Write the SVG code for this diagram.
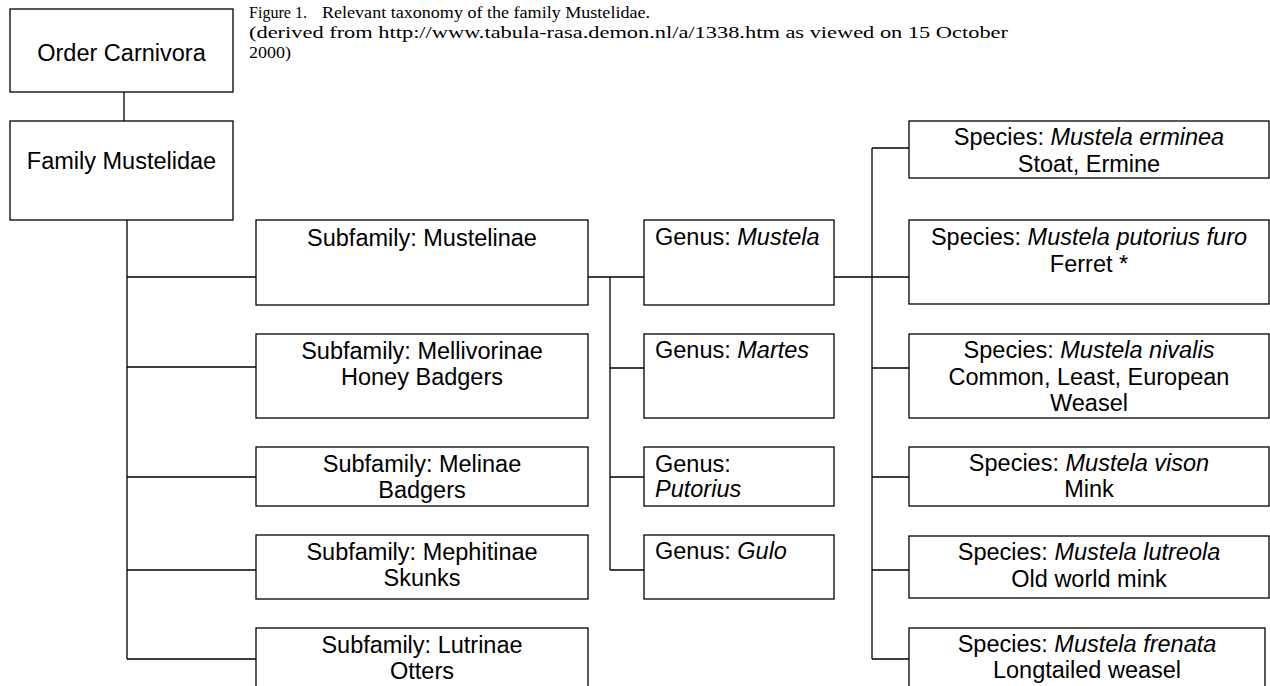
<svg xmlns="http://www.w3.org/2000/svg" width="1270" height="686" viewBox="0 0 1270 686">
<style>
rect{fill:#fff;stroke:#000;stroke-width:1.3}
.c line{stroke:#000;stroke-width:1.3}
text{font-family:"Liberation Sans",Arial,sans-serif;font-size:23.5px;fill:#000}
.m{text-anchor:middle}
.i{font-style:italic}
.cap{font-family:"Liberation Serif","Times New Roman",serif;font-size:17.5px}
</style>
<rect x="0" y="0" width="1270" height="686" style="stroke:none"/>
<g id="caption">
<text class="cap" x="249" y="18" textLength="58" lengthAdjust="spacingAndGlyphs">Figure 1.</text>
<text class="cap" x="322" y="18" textLength="328" lengthAdjust="spacingAndGlyphs">Relevant taxonomy of the family Mustelidae.</text>
<text class="cap" x="249" y="38" textLength="759" lengthAdjust="spacingAndGlyphs">(derived from http://www.tabula-rasa.demon.nl/a/1338.htm as viewed on 15 October</text>
<text class="cap" x="249" y="58" textLength="42" lengthAdjust="spacingAndGlyphs">2000)</text>
</g>
<g class="c" id="connectors">
<line x1="124" y1="92" x2="124" y2="121"/>
<line x1="127" y1="220" x2="127" y2="659"/>
<line x1="127" y1="277" x2="256" y2="277"/>
<line x1="127" y1="367" x2="256" y2="367"/>
<line x1="127" y1="477" x2="256" y2="477"/>
<line x1="127" y1="570" x2="256" y2="570"/>
<line x1="127" y1="659" x2="256" y2="659"/>
<line x1="588" y1="277" x2="644" y2="277"/>
<line x1="610" y1="277" x2="610" y2="570"/>
<line x1="610" y1="368" x2="644" y2="368"/>
<line x1="610" y1="477" x2="644" y2="477"/>
<line x1="610" y1="570" x2="644" y2="570"/>
<line x1="834" y1="277" x2="909" y2="277"/>
<line x1="872" y1="148" x2="872" y2="659"/>
<line x1="872" y1="148" x2="909" y2="148"/>
<line x1="872" y1="368" x2="909" y2="368"/>
<line x1="872" y1="477" x2="909" y2="477"/>
<line x1="872" y1="570" x2="909" y2="570"/>
<line x1="872" y1="659" x2="909" y2="659"/>
</g>
<g id="order"><rect x="10" y="9" width="223" height="83"/><text class="m" x="121.5" y="61">Order Carnivora</text></g>
<g id="family"><rect x="10" y="121" width="223" height="99"/><text class="m" x="121.5" y="169">Family Mustelidae</text></g>
<g id="sub-mustelinae"><rect x="256" y="220" width="332" height="85"/><text class="m" x="422" y="246">Subfamily: Mustelinae</text></g>
<g id="sub-mellivorinae"><rect x="256" y="334" width="332" height="84"/><text class="m" x="422" y="359">Subfamily: Mellivorinae</text><text class="m" x="422" y="385">Honey Badgers</text></g>
<g id="sub-melinae"><rect x="256" y="447" width="332" height="59"/><text class="m" x="422" y="472">Subfamily: Melinae</text><text class="m" x="422" y="498">Badgers</text></g>
<g id="sub-mephitinae"><rect x="256" y="535" width="332" height="64"/><text class="m" x="422" y="560">Subfamily: Mephitinae</text><text class="m" x="422" y="586">Skunks</text></g>
<g id="sub-lutrinae"><rect x="256" y="628" width="332" height="70"/><text class="m" x="422" y="653">Subfamily: Lutrinae</text><text class="m" x="422" y="679">Otters</text></g>
<g id="genus-mustela"><rect x="644" y="220" width="190" height="85"/><text x="655" y="245">Genus: <tspan class="i">Mustela</tspan></text></g>
<g id="genus-martes"><rect x="644" y="334" width="190" height="84"/><text x="655" y="358">Genus: <tspan class="i">Martes</tspan></text></g>
<g id="genus-putorius"><rect x="644" y="447" width="190" height="59"/><text x="655" y="472">Genus:</text><text class="i" x="655" y="497">Putorius</text></g>
<g id="genus-gulo"><rect x="644" y="535" width="190" height="64"/><text x="655" y="559">Genus: <tspan class="i">Gulo</tspan></text></g>
<g id="sp-erminea"><rect x="909" y="121" width="360" height="57"/><text class="m" x="1089" y="145">Species: <tspan class="i">Mustela erminea</tspan></text><text class="m" x="1089" y="172">Stoat, Ermine</text></g>
<g id="sp-furo"><rect x="909" y="220" width="360" height="84"/><text class="m" x="1089" y="245">Species: <tspan class="i">Mustela putorius furo</tspan></text><text class="m" x="1089" y="272">Ferret *</text></g>
<g id="sp-nivalis"><rect x="909" y="334" width="360" height="84"/><text class="m" x="1089" y="358">Species: <tspan class="i">Mustela nivalis</tspan></text><text class="m" x="1089" y="385">Common, Least, European</text><text class="m" x="1089" y="411">Weasel</text></g>
<g id="sp-vison"><rect x="909" y="447" width="360" height="59"/><text class="m" x="1089" y="471">Species: <tspan class="i">Mustela vison</tspan></text><text class="m" x="1089" y="497">Mink</text></g>
<g id="sp-lutreola"><rect x="909" y="536" width="360" height="62"/><text class="m" x="1089" y="560">Species: <tspan class="i">Mustela lutreola</tspan></text><text class="m" x="1089" y="587">Old world mink</text></g>
<g id="sp-frenata"><rect x="909" y="628" width="356" height="70"/><text class="m" x="1087" y="652">Species: <tspan class="i">Mustela frenata</tspan></text><text class="m" x="1087" y="678">Longtailed weasel</text></g>
</svg>
